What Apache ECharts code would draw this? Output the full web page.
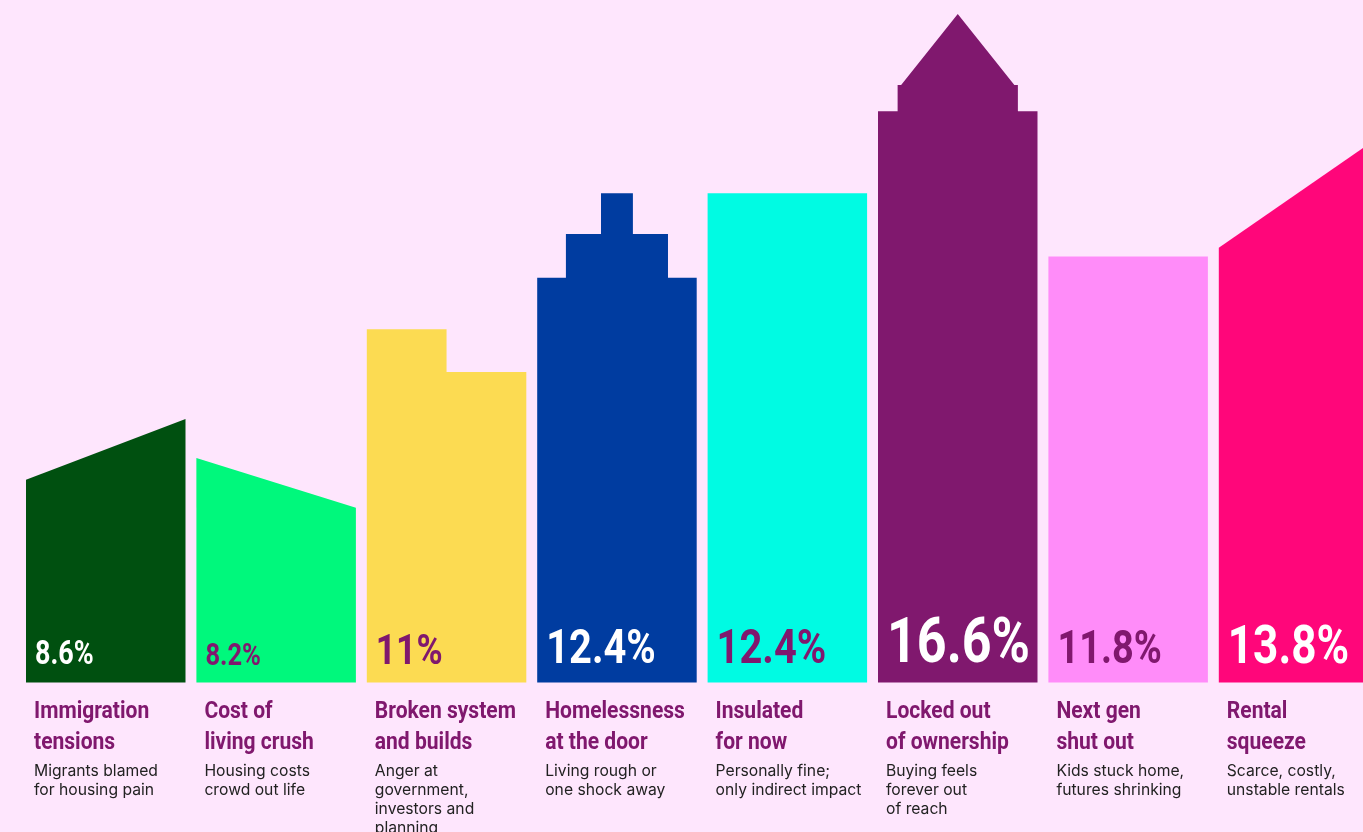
<!DOCTYPE html>
<html><head><meta charset="utf-8">
<style>html,body{margin:0;padding:0;background:#fee6fd;overflow:hidden}#c{width:1363px;height:832px}</style>
<script src="https://cdn.jsdelivr.net/npm/echarts@6/dist/echarts.min.js"></script>
</head><body><div id="c"></div>
<script>
const categories = ['Immigration tensions','Cost of living crush','Broken system and builds','Homelessness at the door','Insulated for now','Locked out of ownership','Next gen shut out','Rental squeeze'];
const values = [8.6, 8.2, 11, 12.4, 12.4, 16.6, 11.8, 13.8];
const titles = ['Immigration\ntensions','Cost of\nliving crush','Broken system\nand builds','Homelessness\nat the door','Insulated\nfor now','Locked out\nof ownership','Next gen\nshut out','Rental\nsqueeze'];
const subtitles = ['Migrants blamed\nfor housing pain','Housing costs\ncrowd out life','Anger at\ngovernment,\ninvestors and\nplanning','Living rough or\none shock away','Personally fine;\nonly indirect impact','Buying feels\nforever out\nof reach','Kids stuck home,\nfutures shrinking','Scarce, costly,\nunstable rentals'];
// roof outlines: [fraction across the building, height on the hidden 0-100 axis]
const roofs = [
  [[0,29.7],[1,38.6]],
  [[0,32.9],[1,25.6]],
  [[0,51.75],[0.5,51.75],[0.5,45.5],[1,45.5]],
  [[0,59.3],[0.18,59.3],[0.18,65.7],[0.4,65.7],[0.4,71.7],[0.6,71.7],[0.6,65.7],[0.82,65.7],[0.82,59.3],[1,59.3]],
  [[0,71.7],[1,71.7]],
  [[0,83.7],[0.123,83.7],[0.123,87.55],[0.145,87.55],[0.5,97.95],[0.855,87.55],[0.877,87.55],[0.877,83.7],[1,83.7]],
  [[0,62.4],[1,62.4]],
  [[0,63.7],[1,79.85]]
];
const colors = ['#005010','#00f87c','#fcdb52','#003ca0','#00fbe3','#80186e','#ff8cf9','#ff067a'];
const valueColors = ['#ffffff','#80186e','#80186e','#ffffff','#80186e','#ffffff','#80186e','#ffffff'];

const COND = "'Roboto',sans-serif";
const SANS = "'Inter','Liberation Sans',sans-serif";

function renderItem(params, api) {
  const i = api.value(0);
  const base = api.coord([i, 0]);
  const band = api.size([1, 0])[0];
  const w = band * 0.936;
  const x0 = base[0] - w / 2;
  const pts = [[x0, base[1]]];
  roofs[i].forEach(p => {
    const c = api.coord([i, p[1]]);
    pts.push([x0 + p[0] * w, c[1]]);
  });
  pts.push([x0 + w, base[1]]);
  const v = api.value(1);
  const fs = 26.7 * Math.sqrt(v) - 45.4;
  const baseline = base[1] - 15;
  return {
    type: 'group',
    children: [
      { type: 'polygon', shape: { points: pts }, style: { fill: colors[i] } },
      { type: 'text', x: x0 + 9, y: baseline - 0.342 * fs, scaleX: 0.82,
        style: { text: v + '%', fill: valueColors[i], font: 'bold ' + fs.toFixed(1) + 'px ' + COND,
                 align: 'left', verticalAlign: 'middle' } },
      { type: 'text', x: x0 + 8, y: base[1] + 14, scaleX: 0.9,
        style: { text: titles[i], fill: '#80186e', font: 'bold 23.4px ' + COND, lineHeight: 31,
                 align: 'left', verticalAlign: 'top' } },
      { type: 'text', x: x0 + 8, y: base[1] + 79.5,
        style: { text: subtitles[i], fill: '#222222', font: '15.7px ' + SANS, lineHeight: 19,
                 align: 'left', verticalAlign: 'top' } }
    ]
  };
}

const GRID_LEFT = 20.55, STEP = 170.4;
const chart = echarts.init(document.getElementById('c'), null, { renderer: 'canvas' });
chart.setOption({
  backgroundColor: '#fee6fd',
  animation: false,
  grid: { left: GRID_LEFT, right: 0, top: 0, bottom: 149.5, outerBoundsMode: 'none' },
  xAxis: { type: 'value', min: -0.5, max: -0.5 + (1363 - GRID_LEFT) / STEP, show: false },
  yAxis: { type: 'value', min: 0, max: 100, show: false },
  series: [{
    type: 'custom',
    renderItem: renderItem,
    clip: false,
    data: values.map((v, i) => [i, v, categories[i]]),
    encode: { x: 0, y: 1 }
  }]
});
</script>
</body></html>
